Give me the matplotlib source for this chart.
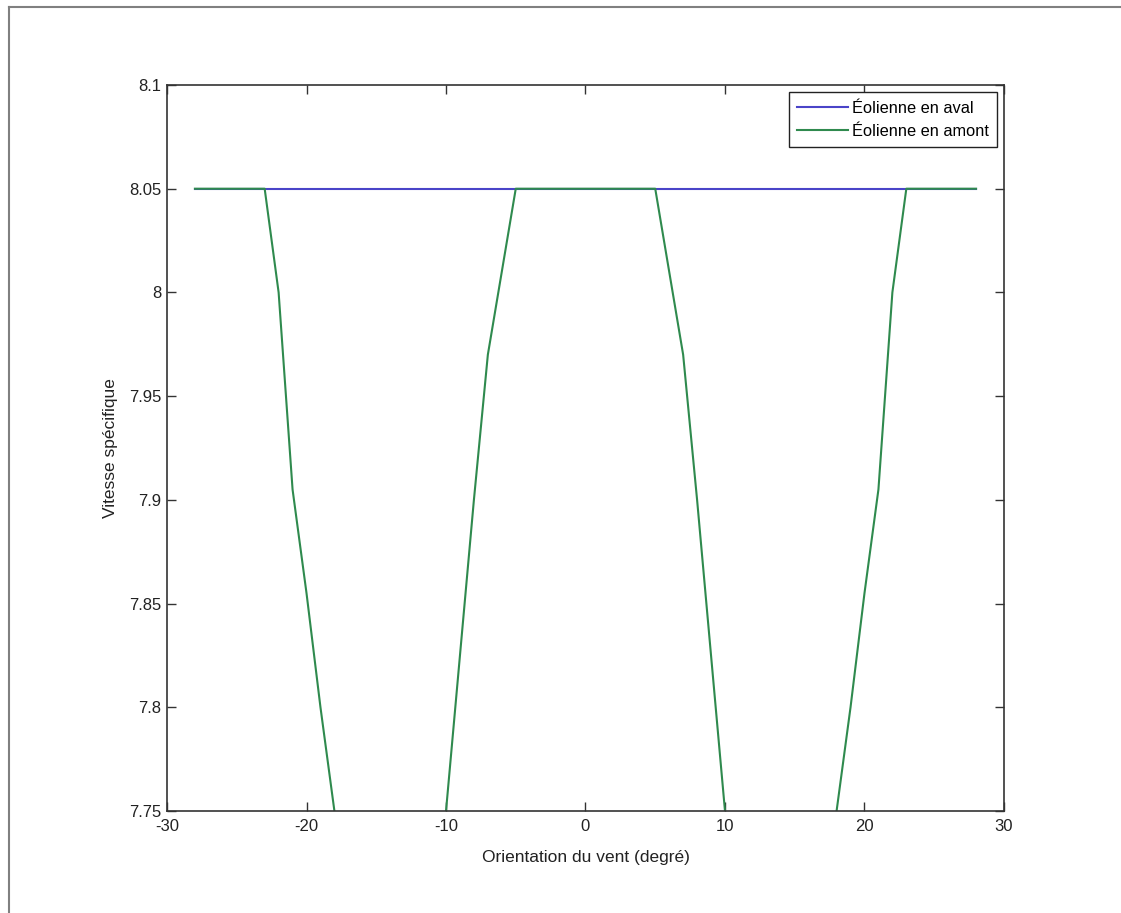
import numpy as np
import matplotlib
matplotlib.use("Agg")
import matplotlib.pyplot as plt
from matplotlib.lines import Line2D

plt.rcParams['font.family'] = ['Liberation Sans', 'DejaVu Sans']

# Downstream turbine: constant tip-speed ratio over the whole sweep
aval_x = [-28, 28]
aval_y = [8.05, 8.05]

# Upstream turbine: drops in the two wake sectors (values below 7.75 are off-scale -> NaN)
amont_x = [-28, -23, -22, -21, -20, -19, -18, -14, -10, -9, -8, -7, -6, -5,
           5, 6, 7, 8, 9, 10, 14, 18, 19, 20, 21, 22, 23, 28]
amont_y = [8.05, 8.05, 8.0, 7.905, 7.855, 7.80, 7.75, np.nan, 7.75, 7.825, 7.90, 7.97, 8.01, 8.05,
           8.05, 8.01, 7.97, 7.90, 7.825, 7.75, np.nan, 7.75, 7.80, 7.855, 7.905, 8.0, 8.05, 8.05]

xticks = [-30, -20, -10, 0, 10, 20, 30]
yticks = [7.75, 7.8, 7.85, 7.9, 7.95, 8.0, 8.05, 8.1]
ytick_labels = ['7.75', '7.8', '7.85', '7.9', '7.95', '8', '8.05', '8.1']

fig = plt.figure(figsize=(11.21, 9.13), dpi=100)
ax = fig.add_axes([0.149, 0.1117, 0.7466, 0.7952])

ax.plot(aval_x, aval_y, color='#4a44c8', lw=1.5, label='Éolienne en aval')
ax.plot(amont_x, amont_y, color='#2f8a4e', lw=1.5, label='Éolienne en amont')

ax.set_xlim(-30, 30)
ax.set_ylim(7.75, 8.1)
ax.set_xticks(xticks)
ax.set_xticklabels([str(t) for t in xticks])
ax.set_yticks(yticks)
ax.set_yticklabels(ytick_labels)

txt = '#222222'
ax.tick_params(direction='in', length=6.5, width=1.0, top=True, right=True,
               labelsize=12, colors='#333333', labelcolor=txt)
ax.tick_params(axis='x', pad=6)
ax.tick_params(axis='y', pad=4)
for s in ax.spines.values():
    s.set_color('#333333')
    s.set_linewidth(1.2)

ax.set_xlabel('Orientation du vent (degré)', fontsize=12.5, color=txt, labelpad=11)
ax.set_ylabel('Vitesse spécifique', fontsize=12.5, color=txt, labelpad=8)

leg = ax.legend(loc='upper right', fontsize=11.8, frameon=True, fancybox=False,
                edgecolor='#222222', framealpha=1, handlelength=3.1, handletextpad=0.2,
                borderpad=0.5, labelspacing=0.5, borderaxespad=0.45)
leg.get_frame().set_linewidth(1.0)

# Window frame edges along the top and left
fig.add_artist(Line2D([9 / 1121, 9 / 1121], [0, 1 - 7 / 913], color='#808080', lw=1.5))
fig.add_artist(Line2D([9 / 1121, 1], [1 - 7 / 913, 1 - 7 / 913], color='#808080', lw=1.5))

fig.savefig('out.png', dpi=100)
